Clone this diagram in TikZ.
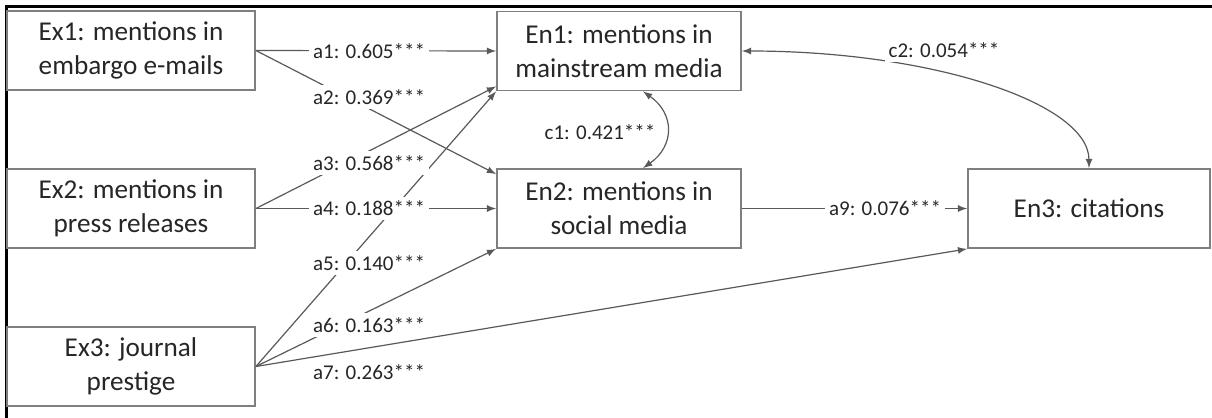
\documentclass[tikz,border=0pt]{standalone}
\usepackage{fontspec}
\setmainfont{Carlito}
\usepackage{tikz}
\usetikzlibrary{arrows}
\definecolor{boxgray}{HTML}{7F7F7F}
\definecolor{linegray}{HTML}{595959}
\definecolor{txtgray}{HTML}{262626}
\tikzset{var/.style={draw=boxgray, line width=0.9pt, align=center, text=txtgray, font=\fontsize{13.6}{17}\selectfont, inner sep=0pt, minimum width=#1, minimum height=39.5pt}, var/.default={124pt}}
\tikzset{coef/.style={fill=white, inner sep=2pt, text=txtgray, font=\fontsize{10.5}{12}\selectfont}}
\tikzset{link/.style={draw=linegray, line width=0.6pt, -latex}}

\begin{document}
\begin{tikzpicture}[x=0.5pt, y=0.5pt]
	\useasboundingbox (0,0) rectangle (1212,-418);
	\draw[line width=1.5pt] (6,-418) -- (6,-6) -- (1212,-6);
	\node[var] (ex1) at (131,-50.5) {Ex1: mentions in\\embargo e-mails};
	\node[var] (ex2) at (131,-208.5) {Ex2: mentions in\\press releases};
	\node[var] (ex3) at (131,-366.5) {Ex3: journal\\prestige};
	\node[var=122pt] (en1) at (619,-51) {En1: mentions in\\mainstream media};
	\node[var=122pt] (en2) at (619,-208.5) {En2: mentions in\\social media};
	\node[var=121pt] (en3) at (1089,-208.5) {En3: citations};
	\draw[link] (ex1.east) -- (en1.west);
	\draw[link] (ex1.east) -- ([yshift=-3pt]en2.north west);
	\draw[link] (ex2.east) -- ([yshift=2.5pt]en1.south west);
	\draw[link] (ex2.east) -- (en2.west);
	\draw[link] (ex3.east) -- (en1.south west);
	\draw[link] (ex3.east) -- (en2.south west);
	\draw[link] (ex3.east) -- (en3.south west);
	\draw[link] (en2.east) -- (en3.west);
	\draw[link, latex-latex] ([xshift=12pt]en1.south) to[bend left=55, looseness=1.3] ([xshift=12pt]en2.north);
	\draw[link, latex-latex] (en1.east) .. controls +(190,0) and +(0,65) .. (en3.north);
	\node[coef] (a1) at (369,-51) {a1: 0.605***};
	\node[coef] (a2) at (369,-97) {a2: 0.369***};
	\node[coef] (a3) at (369,-163) {a3: 0.568***};
	\node[coef] (a4) at (369,-208.5) {a4: 0.188***};
	\node[coef] (a5) at (369,-263) {a5: 0.140***};
	\node[coef] (a6) at (369,-325) {a6: 0.163***};
	\node[coef] (a7) at (369,-372) {a7: 0.263***};
	\node[coef] (a9) at (885,-208.5) {a9: 0.076***};
	\node[coef] (c1) at (600,-132) {c1: 0.421***};
	\node[coef] (c2) at (944,-50) {c2: 0.054***};
\end{tikzpicture}
\end{document}
